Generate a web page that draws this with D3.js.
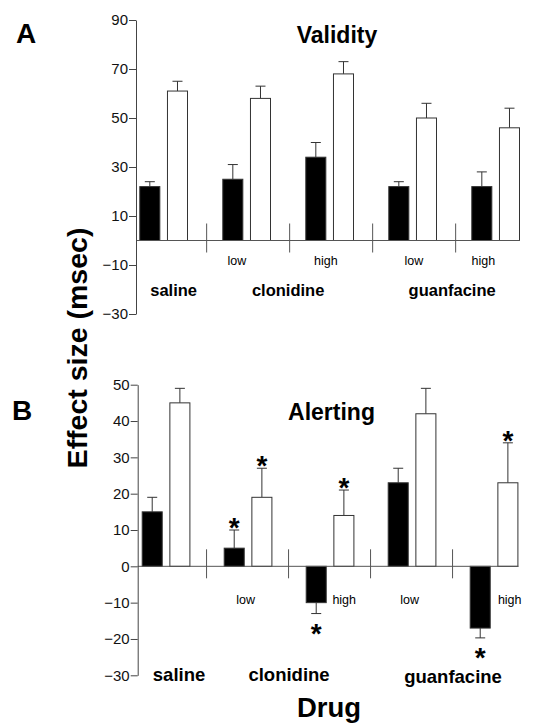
<!DOCTYPE html>
<html>
<head>
<meta charset="utf-8">
<script src="https://cdn.jsdelivr.net/npm/d3@7"></script>
<style>
  body { margin: 0; background: #fff; }
  svg { display: block; font-family: "Liberation Sans", Arial, sans-serif; }
</style>
</head>
<body>
<svg id="canvas" width="533" height="724"></svg>
<script>
// groups along the x axis
const groups = ['saline', 'clonidine low', 'clonidine high', 'guanfacine low', 'guanfacine high']
const doses = ['', 'low', 'high', 'low', 'high']
const drugs = ['saline', 'clonidine', 'guanfacine']
const drugOf = ['saline', 'clonidine', 'clonidine', 'guanfacine', 'guanfacine']
const series = ['filled', 'open']

// panel A - validity
const validityFilled = [22, 25, 34, 22, 22]
const validityFilledErr = [2, 6, 6, 2, 6]
const validityOpen = [61, 58, 68, 50, 46]
const validityOpenErr = [4, 5, 5, 6, 8]
const validityTicks = [90, 70, 50, 30, 10, -10, -30]

// panel B - alerting
const alertingFilled = [15, 5, -10, 23, -17]
const alertingFilledErr = [4, 5, 3, 4, 2.7]
const alertingOpen = [45, 19, 14, 42, 23]
const alertingOpenErr = [4, 8, 7, 7, 11]
const alertingFilledSig = [false, true, true, false, true]
const alertingOpenSig = [false, true, true, false, true]
const alertingTicks = [50, 40, 30, 20, 10, 0, -10, -20, -30]

let canvas = d3.select('#canvas')

let drawPanel = (p) => {
  let g = canvas.append('g')

  let y = d3.scaleLinear().domain(p.domain).range(p.yRange)
  let x = d3.scaleBand().domain(groups).range(p.xRange)
  let inner = d3.scaleBand().domain(series).range([0, 48.7]).paddingInner(0.24)

  let rows = []
  groups.forEach((grp, i) => {
    rows.push({ grp: grp, s: 'filled', v: p.filled[i], e: p.filledErr[i], sig: p.filledSig ? p.filledSig[i] : false })
    rows.push({ grp: grp, s: 'open', v: p.open[i], e: p.openErr[i], sig: p.openSig ? p.openSig[i] : false })
  })
  let cx = (d) => x(d.grp) + inner(d.s) + inner.bandwidth() / 2
  let tip = (d) => d.v >= 0 ? d.v + d.e : d.v - d.e

  // error bars first, bars on top
  g.selectAll('.err')
    .data(rows)
    .enter()
    .append('line')
    .attr('x1', cx).attr('x2', cx)
    .attr('y1', (d) => y(d.v))
    .attr('y2', (d) => y(tip(d)))
    .attr('stroke', '#333')
    .attr('stroke-width', 1)
  g.selectAll('.cap')
    .data(rows)
    .enter()
    .append('line')
    .attr('x1', (d) => cx(d) - 5).attr('x2', (d) => cx(d) + 5)
    .attr('y1', (d) => y(tip(d)))
    .attr('y2', (d) => y(tip(d)))
    .attr('stroke', '#333')
    .attr('stroke-width', 1)

  g.selectAll('.bar')
    .data(rows)
    .enter()
    .append('rect')
    .attr('x', (d) => x(d.grp) + inner(d.s) + 0.5)
    .attr('width', inner.bandwidth() - 1)
    .attr('y', (d) => y(Math.max(0, d.v)))
    .attr('height', (d) => Math.abs(y(d.v) - y(0)))
    .attr('fill', (d) => d.s === 'filled' ? '#000' : '#fff')
    .attr('stroke', '#333')
    .attr('stroke-width', 1)

  // asterisks
  g.selectAll('.star')
    .data(rows.filter((d) => d.sig))
    .enter()
    .append('text')
    .attr('x', cx)
    .attr('y', (d) => d.v >= 0 ? y(tip(d)) - 9 + 16 : y(tip(d)) + 13 + 16)
    .attr('text-anchor', 'middle')
    .attr('font-size', 28)
    .attr('font-weight', 'bold')
    .text('*')

  // zero line
  let last = groups[groups.length - 1]
  g.append('line')
    .attr('x1', p.axisX).attr('x2', x(last) + inner('open') + inner.bandwidth())
    .attr('y1', y(0)).attr('y2', y(0))
    .attr('stroke', '#555')
    .attr('stroke-width', 1)

  // separators between groups
  g.selectAll('.sep')
    .data(groups.slice(0, -1))
    .enter()
    .append('line')
    .attr('x1', (d) => x(d) + (48.7 + x.bandwidth()) / 2 + p.sepDx)
    .attr('x2', (d) => x(d) + (48.7 + x.bandwidth()) / 2 + p.sepDx)
    .attr('y1', y(0) - 17).attr('y2', y(0) + 12)
    .attr('stroke', '#555')
    .attr('stroke-width', 1)

  // y axis
  g.append('g')
    .attr('transform', 'translate(' + p.axisX + ',0)')
    .call(d3.axisLeft(y).tickValues(p.ticks).tickSize(7).tickSizeOuter(0).tickPadding(1).tickFormat(d3.format('d')))
    .call((a) => a.select('.domain').attr('stroke', '#444'))
    .call((a) => a.selectAll('.tick line').attr('stroke', '#444'))
    .call((a) => a.selectAll('.tick text')
      .attr('font-family', '"Liberation Sans", Arial, sans-serif')
      .attr('font-size', 15)
      .attr('fill', '#111'))

  // dose labels
  g.selectAll('.dose')
    .data(groups)
    .enter()
    .append('text')
    .attr('x', (d, i) => x(d) + p.doseDx[i])
    .attr('y', p.doseY)
    .attr('text-anchor', 'middle')
    .attr('font-size', 12.5)
    .text((d, i) => doses[i])

  // drug labels
  g.selectAll('.drug')
    .data(drugs)
    .enter()
    .append('text')
    .attr('x', (d, i) => {
      let gs = groups.filter((grp, j) => drugOf[j] === d)
      let a = x(gs[0])
      let b = x(gs[gs.length - 1]) + 48.7
      return (a + b) / 2 + p.drugDx[i]
    })
    .attr('y', (d, i) => p.drugY[i])
    .attr('text-anchor', 'middle')
    .attr('font-size', p.drugSize)
    .attr('font-weight', 'bold')
    .text((d) => d)

  // panel title and letter
  g.append('text')
    .attr('x', p.titleX).attr('y', p.titleY)
    .attr('text-anchor', 'middle')
    .attr('font-size', 23)
    .attr('font-weight', 'bold')
    .text(p.title)
  g.append('text')
    .attr('x', p.letterX).attr('y', p.titleY)
    .attr('font-size', 28)
    .attr('font-weight', 'bold')
    .text(p.letter)
}

drawPanel({
  letter: 'A', title: 'Validity', letterX: 16, titleX: 337, titleY: 43,
  domain: [-30, 90], yRange: [314, 20], xRange: [139.3, 554.3], axisX: 136,
  ticks: validityTicks,
  filled: validityFilled, filledErr: validityFilledErr,
  open: validityOpen, openErr: validityOpenErr,
  sepDx: 1.5,
  doseDx: [0, 14.5, 20.5, 25.5, 12], doseY: 265,
  drugDx: [10, 0, -2], drugY: [296, 296, 296], drugSize: 16.5
})

drawPanel({
  letter: 'B', title: 'Alerting', letterX: 12, titleX: 331.5, titleY: 420,
  domain: [-30, 50], yRange: [675.3, 384.7], xRange: [141.7, 551.7], axisX: 137.7,
  ticks: alertingTicks,
  filled: alertingFilled, filledErr: alertingFilledErr, filledSig: alertingFilledSig,
  open: alertingOpen, openErr: alertingOpenErr, openSig: alertingOpenSig,
  sepDx: -0.5,
  doseDx: [0, 22, 38.5, 22, 40], doseY: 604,
  drugDx: [13, 0, 0], drugY: [681, 681, 683], drugSize: 18.5
})

// shared axis titles
canvas.append('text')
  .attr('transform', 'translate(86.5,348) rotate(-90)')
  .attr('text-anchor', 'middle')
  .attr('font-size', 28.5)
  .attr('font-weight', 'bold')
  .text('Effect size (msec)')

canvas.append('text')
  .attr('x', 329).attr('y', 716.5)
  .attr('text-anchor', 'middle')
  .attr('font-size', 27.5)
  .attr('font-weight', 'bold')
  .text('Drug')
</script>
</body>
</html>
